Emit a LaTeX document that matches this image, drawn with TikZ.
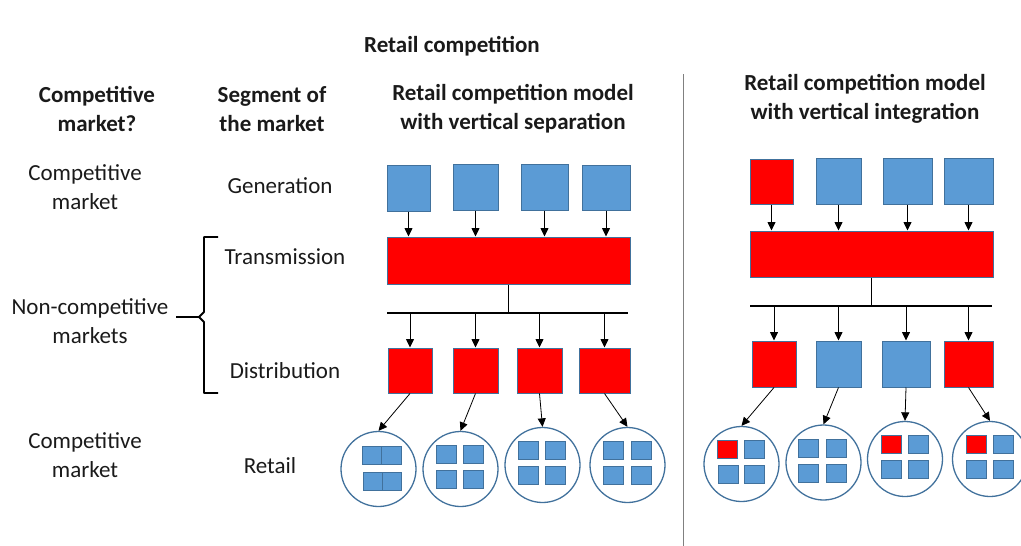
\documentclass[tikz,border=0pt]{standalone}
\usepackage{fontspec}
\setmainfont{Carlito}
\usetikzlibrary{arrows.meta}
\definecolor{bfill}{HTML}{5B9BD5}
\definecolor{bline}{HTML}{41719C}
\definecolor{rfill}{HTML}{FF0000}
\definecolor{divline}{HTML}{808080}
\definecolor{ink}{HTML}{1A1A1A}
\tikzset{
  txt/.style={font=\fontsize{23}{29}\selectfont, align=center, inner sep=0pt, text=ink},
  btxt/.style={txt, font=\fontsize{23}{29}\selectfont\bfseries},
  bluebox/.style={draw=bline, fill=bfill, line width=1pt, inner sep=0pt, minimum width=#1},
  bluebox/.default=44,
  redbox/.style={draw=bline, fill=rfill, line width=1pt, inner sep=0pt, minimum width=#1},
  redbox/.default=44,
  sq/.style={draw=bline, fill=bfill, line width=1pt, inner sep=0pt, minimum width=20, minimum height=18},
  rsq/.style={sq, fill=rfill},
  shop/.style={draw=bline, fill=white, circle, line width=1.3pt, inner sep=0pt, minimum size=75},
  arr/.style={draw=black, line width=0.8pt, -{Triangle[length=8.5pt,width=8pt]}},
  bus/.style={draw=black, line width=1.3pt},
}
\begin{document}
\begin{tikzpicture}[x=1pt,y=-1pt]
\useasboundingbox (0,0) rectangle (1021,546);
% titles
\node[btxt] (title) at (452,46) {Retail competition};
\node[btxt] (h1) at (97,109) {Competitive\\market?};
\node[btxt] (h2) at (272,109) {Segment of\\the market};
\node[btxt] (h3) at (513,109) {Retail competition model\\with vertical separation};
\node[btxt] (h4) at (865,99) {Retail competition model\\with vertical integration};
% divider
\coordinate (dtop) at (683,74);
\coordinate (dbot) at (683,546);
\draw[divline, line width=1pt] (dtop) -- (dbot);
% left labels
\node[txt] (l1) at (85,187) {Competitive\\market};
\node[txt] (l2) at (90,321) {Non-competitive\\markets};
\node[txt] (l3) at (85,455) {Competitive\\market};
\node[txt] (s1) at (280,186) {Generation};
\node[txt] (s2) at (285,257) {Transmission};
\node[txt] (s3) at (285,371) {Distribution};
\node[txt] (s4) at (270,466) {Retail};
% brace
\coordinate (bt) at (218,237);
\coordinate (bb) at (218,393);
\coordinate (bm) at (176,317);
\draw[line width=1.8pt, line join=round] (bt) -- (204,237) -- (204,312) -- (199,317) -- (bm)
  (199,317) -- (204,322) -- (204,393) -- (bb);
% ---------- left panel ----------
\node[bluebox=43, minimum height=46] (g1) at (408.5,188) {};
\node[bluebox=45, minimum height=46] (g2) at (475.5,187) {};
\node[bluebox=47, minimum height=46] (g3) at (544.5,187) {};
\node[bluebox=48, minimum height=45] (g4) at (606,187.5) {};
\node[redbox=243, minimum height=47] (t1) at (508.5,260.5) {};
\foreach \i in {1,...,4} \draw[arr] (g\i.south) -- (g\i.south |- t1.north);
\coordinate (b1l) at (387,313);
\coordinate (b1r) at (628,313);
\coordinate (b1m) at (t1.south |- b1l);
\draw[bus] (t1.south) -- (b1m);
\draw[bus] (b1l) -- (b1r);
\node[redbox=44, minimum height=45] (d1) at (410,370.5) {};
\node[redbox=45, minimum height=45] (d2) at (475.5,370.5) {};
\node[redbox=45, minimum height=45] (d3) at (539.5,370.5) {};
\node[redbox=51, minimum height=45] (d4) at (604.5,370.5) {};
\foreach \i in {1,...,4} \draw[arr] (d\i.north |- b1l) -- (d\i.north);
\node[shop] (c1) at (378.5,469) {};
\node[shop] (c2) at (460.5,469) {};
\node[shop] (c3) at (542.5,465) {};
\node[shop] (c4) at (627.5,465) {};
\draw[arr] (d1.south) -- (c1.north);
\draw[arr] (d2.south) -- (c2.north);
\draw[arr] (d3.south) -- (c3.north);
\draw[arr] (d4.south) -- (c4.north);
% shops contents left
\node[sq, minimum width=19.5] (c1a) at (372,455) {};
\node[sq, minimum width=19.5] (c1b) at (391.5,455) {};
\node[sq, minimum width=19] (c1c) at (372.5,481) {};
\node[sq, minimum width=19] (c1d) at (391.5,481) {};
\node[sq] (c2a) at (446,454) {};
\node[sq] (c2b) at (473,454) {};
\node[sq] (c2c) at (446,479.5) {};
\node[sq] (c2d) at (473,479.5) {};
\node[sq] (c3a) at (528,450) {};
\node[sq] (c3b) at (555,450) {};
\node[sq] (c3c) at (528,475.5) {};
\node[sq] (c3d) at (555,475.5) {};
\node[sq] (c4a) at (613.5,450) {};
\node[sq] (c4b) at (641,450) {};
\node[sq] (c4c) at (613.5,475.5) {};
\node[sq] (c4d) at (641,475.5) {};
% ---------- right panel ----------
\node[redbox=43, minimum height=45] (G1) at (771.5,181.5) {};
\node[bluebox=45, minimum height=46] (G2) at (838.5,181) {};
\node[bluebox=49, minimum height=46] (G3) at (907.5,181) {};
\node[bluebox=49, minimum height=46] (G4) at (968.5,181) {};
\node[redbox=243, minimum height=46] (T1) at (871.5,254) {};
\foreach \i in {1,...,4} \draw[arr] (G\i.south) -- (G\i.south |- T1.north);
\coordinate (B1l) at (750,306);
\coordinate (B1r) at (992,306);
\coordinate (B1m) at (T1.south |- B1l);
\draw[bus] (T1.south) -- (B1m);
\draw[bus] (B1l) -- (B1r);
\node[redbox=44, minimum height=46] (D1) at (774,364) {};
\node[bluebox=45, minimum height=46] (D2) at (838.5,364) {};
\node[bluebox=48, minimum height=46] (D3) at (906,364) {};
\node[redbox=49, minimum height=46] (D4) at (968.5,364) {};
\foreach \i in {1,...,4} \draw[arr] (D\i.north |- B1l) -- (D\i.north);
\node[shop] (C1) at (741.5,464) {};
\node[shop] (C2) at (823.5,462.5) {};
\node[shop] (C3) at (905,459) {};
\node[shop] (C4) at (990,459) {};
\draw[arr] (D1.south) -- (C1.north);
\draw[arr] (D2.south) -- (C2.north);
\draw[arr] (D3.south) -- (C3.north);
\draw[arr] (D4.south) -- (C4.north);
\node[rsq] (C1a) at (727,449) {};
\node[sq] (C1b) at (754,449) {};
\node[sq] (C1c) at (728,474) {};
\node[sq] (C1d) at (754.5,474) {};
\node[sq] (C2a) at (808,448) {};
\node[sq] (C2b) at (836,448) {};
\node[sq] (C2c) at (808,473.5) {};
\node[sq] (C2d) at (836,473.5) {};
\node[rsq] (C3a) at (891,444.5) {};
\node[sq] (C3b) at (918,444.5) {};
\node[sq] (C3c) at (891,469.5) {};
\node[sq] (C3d) at (918,469.5) {};
\node[rsq] (C4a) at (976.5,444.5) {};
\node[sq] (C4b) at (1003,444.5) {};
\node[sq] (C4c) at (976.5,469.5) {};
\node[sq] (C4d) at (1003,469.5) {};
\end{tikzpicture}
\end{document}
